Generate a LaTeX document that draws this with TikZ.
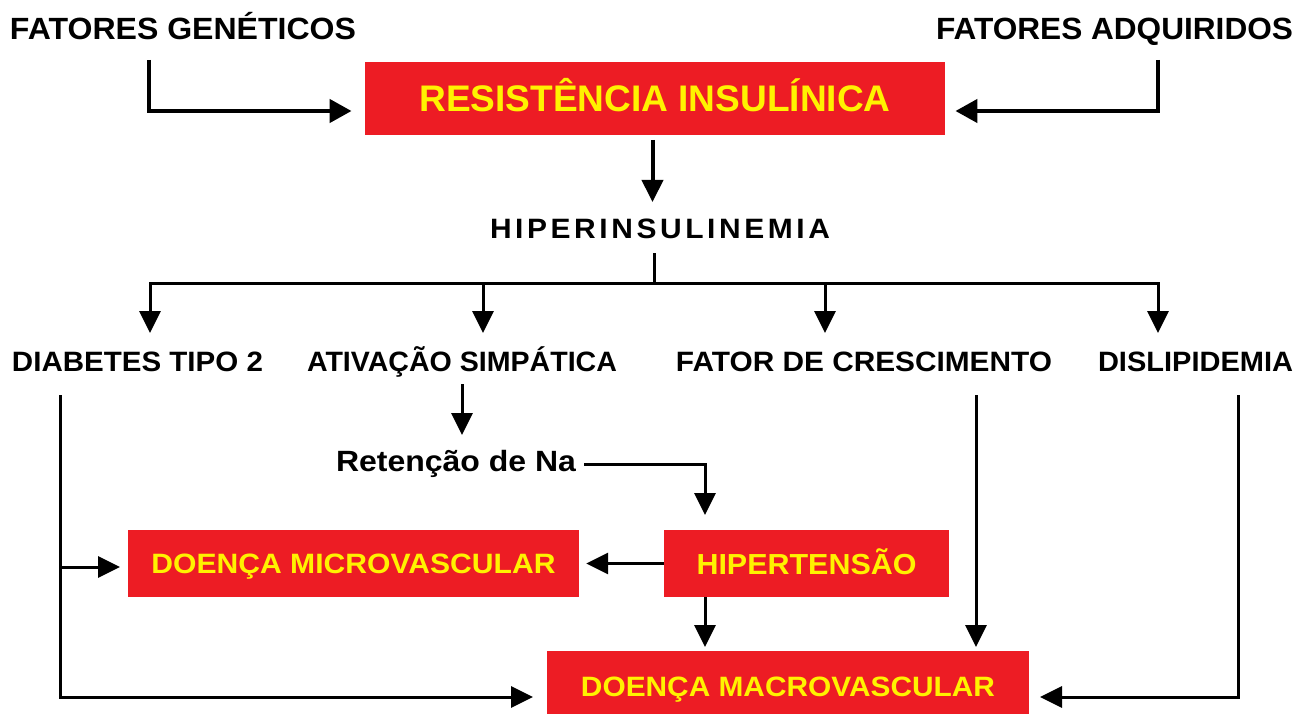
\documentclass[tikz,border=0pt]{standalone}
\usepackage{fontspec}
\setmainfont{Liberation Sans}
\usepackage{graphicx}
\usetikzlibrary{arrows.meta}
\definecolor{boxred}{HTML}{ED1C24}
\definecolor{boxyellow}{HTML}{FFF200}
\newcommand\fitw[2]{\resizebox{#1pt}{\height}{#2}}
\tikzset{
  lab/.style={inner sep=0pt, anchor=base, text=black},
  redbox/.style={fill=boxred, draw=none, inner sep=0pt, text=boxyellow, text depth=0pt},
  arr/.style={-{Triangle[length=22pt,width=21pt]}, line width=3pt},
  toparr/.style={-{Triangle[length=22pt,width=23pt]}, line width=4.5pt},
  plain/.style={line width=3pt},
}
\begin{document}
\begin{tikzpicture}[x=1pt,y=-1pt]
\useasboundingbox[fill=white] (0,0) rectangle (1298,714);

% top labels
\node[lab, font=\bfseries\fontsize{30.7}{34}\selectfont] (gen) at (183,40) {\fitw{346}{FATORES GENÉTICOS}};
\node[lab, font=\bfseries\fontsize{30.7}{34}\selectfont] (adq) at (1114.5,40) {\fitw{357}{FATORES ADQUIRIDOS}};

% main box
\node[redbox, minimum width=580.5pt, minimum height=73pt, text height=26.6pt,
      font=\bfseries\fontsize{37}{40}\selectfont] (ri) at (655,98.5) {\fitw{471.5}{RESISTÊNCIA INSULÍNICA}};

\coordinate (g0) at (149,60);
\coordinate (a0) at (1158,60);
\draw[toparr] (g0) |- ([xshift=-13pt,yshift=-12.5pt]ri.west);
\draw[toparr] (a0) |- ([xshift=10pt,yshift=-12.5pt]ri.east);

% hiperinsulinemia
\node[lab, font=\bfseries\fontsize{28}{30}\selectfont\addfontfeatures{LetterSpace=12}] (hyp) at (660,238) {\fitw{340}{HIPERINSULINEMIA}};
\draw[-{Triangle[length=22pt,width=21pt]}, line width=4pt] (652.5,140) -- (652.5,202);

% tree
\coordinate (stem) at (654,253);
\coordinate (bar) at (654,283);
\draw[plain] (stem) -- (bar);
\draw[plain, line cap=rect] (150,283) -- (1158,283);
\draw[arr] (150,283) -- (150,333);
\draw[arr] (483,283) -- (483,333);
\draw[arr] (825,283) -- (825,333);
\draw[arr] (1158,283) -- (1158,333);

% row labels
\node[lab, font=\bfseries\fontsize{28}{30}\selectfont] (dia) at (137.5,371) {\fitw{251}{DIABETES TIPO 2}};
\node[lab, font=\bfseries\fontsize{28}{30}\selectfont] (ati) at (462,371) {\fitw{310}{ATIVAÇÃO SIMPÁTICA}};
\node[lab, font=\bfseries\fontsize{28}{30}\selectfont] (fat) at (864,371) {\fitw{376}{FATOR DE CRESCIMENTO}};
\node[lab, font=\bfseries\fontsize{28}{30}\selectfont] (dis) at (1195.5,371) {\fitw{195}{DISLIPIDEMIA}};

% retencao
\node[lab, font=\bfseries\fontsize{29.3}{32}\selectfont] (ret) at (456,471) {\fitw{240}{Retenção de Na}};
\draw[arr] (462,384) -- (462,435);

% boxes lower
\node[redbox, minimum width=451pt, minimum height=67pt, text height=20pt,
      font=\bfseries\fontsize{28}{30}\selectfont] (mic) at (353.5,563.5) {\fitw{404}{DOENÇA MICROVASCULAR}};
\node[redbox, minimum width=285pt, minimum height=67pt, text height=21pt,
      font=\bfseries\fontsize{29}{31}\selectfont] (hip) at (806.5,563.5) {\fitw{220}{HIPERTENSÃO}};
\node[redbox, minimum width=482pt, minimum height=71.4pt, text height=20pt,
      font=\bfseries\fontsize{28}{30}\selectfont] (mac) at (788,686.7) {\fitw{414}{DOENÇA MACROVASCULAR}};

% connectors lower
\draw[arr] (584,464) -| (705,515);
\draw[arr] (hip.west) -- ([xshift=7pt]mic.east);
\draw[arr] (705,597) -- (705,647);
\draw[arr] (976,395) -- (976,647);
\draw[arr] (60,395) |- (533,697);
\draw[arr] (60,567) -- (120,567);
\draw[arr] (1238,395) |- (1040,697);
\end{tikzpicture}
\end{document}
